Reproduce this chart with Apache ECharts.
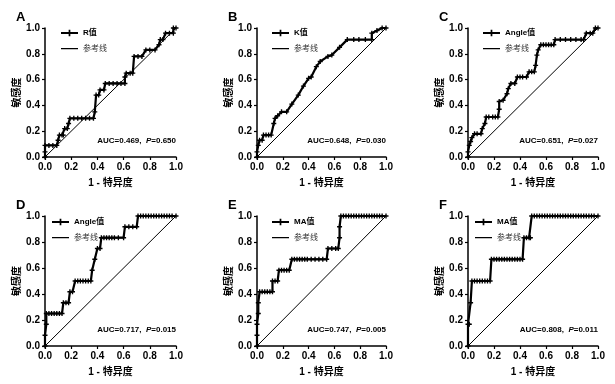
<!DOCTYPE html>
<html><head><meta charset="utf-8">
<script src="https://cdn.jsdelivr.net/npm/echarts@6/dist/echarts.min.js"></script>
<style>html,body{margin:0;padding:0;background:#fff}#c{width:615px;height:384px}</style>
</head><body><div id="c"></div>
<script>
// Panel labels, series names and stats
const panelLetters = ['A','B','C','D','E','F'];
const seriesNames = ['R值','K值','Angle值','Angle值','MA值','MA值'];
const refName = '参考线';
const aucText = ['0.469','0.648','0.651','0.717','0.747','0.808'];
const pText = ['0.650','0.030','0.027','0.015','0.005','0.011'];
const tickLabels = ['0.0','0.2','0.4','0.6','0.8','1.0'];

// ROC curves: x = 1 - specificity, y = sensitivity
const fprA = [0,0,0,0.03,0.06,0.09,0.10,0.11,0.13,0.14,0.15,0.17,0.18,0.19,0.22,0.25,0.28,0.31,0.34,0.37,0.38,0.39,0.41,0.42,0.45,0.46,0.49,0.52,0.55,0.58,0.61,0.61,0.62,0.65,0.67,0.68,0.71,0.74,0.77,0.80,0.84,0.87,0.88,0.90,0.92,0.95,0.98,0.98,1];
const tprA = [0,0.04,0.09,0.09,0.09,0.09,0.13,0.17,0.17,0.17,0.22,0.22,0.26,0.30,0.30,0.30,0.30,0.30,0.30,0.30,0.35,0.48,0.48,0.52,0.52,0.57,0.57,0.57,0.57,0.57,0.57,0.62,0.65,0.65,0.65,0.78,0.78,0.78,0.83,0.83,0.83,0.87,0.91,0.91,0.96,0.96,0.96,1.0,1];

const fprB = [0,0,0.01,0.02,0.04,0.05,0.07,0.09,0.11,0.13,0.14,0.16,0.19,0.23,0.27,0.32,0.36,0.40,0.42,0.46,0.49,0.55,0.58,0.64,0.70,0.75,0.79,0.84,0.89,0.89,0.93,0.97,1];
const tprB = [0,0.04,0.09,0.13,0.13,0.17,0.17,0.17,0.17,0.26,0.30,0.32,0.35,0.35,0.41,0.48,0.55,0.61,0.62,0.70,0.74,0.78,0.79,0.85,0.91,0.91,0.91,0.91,0.91,0.96,0.98,1.0,1];

const fprC = [0,0,0.01,0.02,0.03,0.05,0.07,0.10,0.11,0.13,0.14,0.16,0.19,0.21,0.23,0.24,0.24,0.27,0.30,0.31,0.33,0.36,0.38,0.40,0.42,0.45,0.47,0.49,0.51,0.52,0.53,0.54,0.56,0.58,0.60,0.62,0.64,0.66,0.67,0.71,0.75,0.79,0.83,0.87,0.89,0.91,0.94,0.96,0.98,1];
const tprC = [0,0.04,0.09,0.12,0.15,0.18,0.18,0.18,0.22,0.26,0.31,0.31,0.31,0.31,0.31,0.37,0.43,0.44,0.49,0.53,0.57,0.57,0.62,0.62,0.62,0.62,0.66,0.66,0.66,0.71,0.79,0.83,0.87,0.87,0.87,0.87,0.87,0.87,0.91,0.91,0.91,0.91,0.91,0.91,0.91,0.96,0.96,0.96,1.0,1];

const fprD = [0,0,0.01,0.01,0.03,0.05,0.07,0.09,0.11,0.13,0.14,0.16,0.18,0.19,0.21,0.23,0.25,0.27,0.29,0.31,0.33,0.35,0.36,0.38,0.40,0.42,0.43,0.45,0.47,0.49,0.51,0.53,0.56,0.60,0.61,0.64,0.67,0.70,0.71,0.73,0.75,0.77,0.79,0.81,0.83,0.85,0.87,0.89,0.91,0.93,0.95,0.97,1];
const tprD = [0,0.083,0.167,0.25,0.25,0.25,0.25,0.25,0.25,0.25,0.333,0.333,0.333,0.417,0.417,0.5,0.5,0.5,0.5,0.5,0.5,0.5,0.583,0.667,0.75,0.75,0.833,0.833,0.833,0.833,0.833,0.833,0.833,0.833,0.917,0.917,0.917,0.917,1,1,1,1,1,1,1,1,1,1,1,1,1,1,1];

const fprE = [0,0,0,0.01,0.01,0.02,0.04,0.06,0.08,0.10,0.12,0.12,0.14,0.16,0.17,0.19,0.21,0.23,0.25,0.27,0.29,0.31,0.33,0.35,0.37,0.39,0.42,0.45,0.48,0.51,0.54,0.55,0.58,0.61,0.63,0.64,0.64,0.65,0.67,0.69,0.71,0.73,0.75,0.77,0.79,0.81,0.83,0.85,0.87,0.89,0.91,0.93,0.95,0.97,1];
const tprE = [0,0.083,0.167,0.25,0.333,0.417,0.417,0.417,0.417,0.417,0.417,0.5,0.5,0.5,0.583,0.583,0.583,0.583,0.583,0.667,0.667,0.667,0.667,0.667,0.667,0.667,0.667,0.667,0.667,0.667,0.667,0.75,0.75,0.75,0.75,0.833,0.917,1,1,1,1,1,1,1,1,1,1,1,1,1,1,1,1,1,1];

const fprF = [0,0,0.01,0.02,0.03,0.05,0.07,0.09,0.11,0.13,0.15,0.17,0.18,0.20,0.22,0.24,0.26,0.28,0.30,0.32,0.34,0.36,0.38,0.40,0.42,0.43,0.45,0.47,0.48,0.49,0.51,0.53,0.55,0.57,0.59,0.61,0.63,0.65,0.67,0.69,0.71,0.73,0.75,0.77,0.79,0.81,0.83,0.85,0.87,0.89,0.91,0.93,0.95,0.97,1];
const tprF = [0,0.167,0.167,0.333,0.5,0.5,0.5,0.5,0.5,0.5,0.5,0.5,0.667,0.667,0.667,0.667,0.667,0.667,0.667,0.667,0.667,0.667,0.667,0.667,0.667,0.833,0.833,0.833,0.833,1,1,1,1,1,1,1,1,1,1,1,1,1,1,1,1,1,1,1,1,1,1,1,1,1,1];

const refX = [0,1];
const refY = [0,1];

const curves = [[fprA,tprA],[fprB,tprB],[fprC,tprC],[fprD,tprD],[fprE,tprE],[fprF,tprF]];

// layout
const grids = [
  {left:45, top:28, width:131, height:129},
  {left:257, top:28, width:129, height:129},
  {left:468, top:28, width:130, height:129},
  {left:45, top:216, width:131, height:130},
  {left:257, top:216, width:129, height:130},
  {left:468, top:216, width:130, height:130}
];
const legendPos = [[60,29],[271,29],[482,29],[51,218],[271,218],[474,218]];

const FONT = '"Liberation Sans", Arial, "Noto Sans CJK SC", sans-serif';
const plusPath = 'path://M-0.8,-3H0.8V-0.8H3V0.8H0.8V3H-0.8V0.8H-3V-0.8H-0.8Z';
const refIcon = 'path://M0,0H0.01V0.01H0Z M0,3H17V4.3H0Z M16.99,7.99H17V8H16.99Z';

const xAxis = [], yAxis = [], series = [], legend = [], title = [];
grids.forEach((g, i) => {
  const axisCommon = {
    type:'value', min:0, max:1, interval:0.2, gridIndex:i,
    axisLine:{show:true, onZero:false, lineStyle:{color:'#000', width:1.5}},
    axisTick:{show:true, length:3, lineStyle:{color:'#000', width:1.2}},
    splitLine:{show:false},
    axisLabel:{color:'#000', fontWeight:'bold', fontSize:10, fontFamily:FONT, margin:5,
      formatter:(v)=>tickLabels[Math.round(v/0.2)]},
    nameTextStyle:{color:'#000', fontWeight:'bold', fontSize:10, fontFamily:FONT},
    nameMoveOverlap:false
  };
  xAxis.push(Object.assign({}, axisCommon, {name:'1 - 特异度', nameLocation:'middle', nameGap:21}));
  yAxis.push(Object.assign({}, axisCommon, {name:'敏感度', nameLocation:'middle', nameGap:23}));
  series.push({
    name: refName, type:'line', xAxisIndex:i, yAxisIndex:i,
    data: refX.map((x,k)=>[x, refY[k]]), showSymbol:false, symbol:'none',
    lineStyle:{color:'#000', width:1}, itemStyle:{color:'#000'}, silent:true, z:2, animation:false
  });
  const [fx, ty] = curves[i];
  series.push({
    name: seriesNames[i], type:'line', xAxisIndex:i, yAxisIndex:i,
    data: fx.map((x,k)=>[x, ty[k]]), symbol:plusPath, symbolSize:5, showSymbol:true,
    lineStyle:{color:'#000', width:2.2}, itemStyle:{color:'#000'}, z:3, animation:false
  });
  legend.push({
    orient:'vertical', left:legendPos[i][0], top:legendPos[i][1], itemWidth:17, itemHeight:8, itemGap:8,
    padding:0, selectedMode:false, symbolKeepAspect:false,
    textStyle:{fontSize:8, fontFamily:FONT, color:'#000'},
    data:[{name:seriesNames[i], textStyle:{fontWeight:'bold'}},
          {name:refName, icon:refIcon, itemStyle:{color:'#000', borderWidth:0}, textStyle:{color:'#333', fontWeight:'normal'}}]
  });
  title.push({
    text: panelLetters[i], left: g.left - 29, top: g.top - 17, padding:0,
    textStyle:{fontSize:13, fontWeight:'bold', color:'#000', fontFamily:FONT}
  });
  title.push({
    text: '{a|AUC=' + aucText[i] + ',  }{p|P}{a|=' + pText[i] + '}',
    right: 615 - (g.left + g.width), top: g.top + g.height - 20, padding:0,
    textStyle:{rich:{
      a:{fontSize:8, fontWeight:'bold', color:'#000', fontFamily:FONT},
      p:{fontSize:8, fontWeight:'bold', fontStyle:'italic', color:'#000', fontFamily:FONT}
    }}
  });
});

const chart = echarts.init(document.getElementById('c'), null, {renderer:'canvas'});
chart.setOption({animation:false, backgroundColor:'#fff', grid:grids, xAxis, yAxis, series, legend, title});
</script>
</body></html>
